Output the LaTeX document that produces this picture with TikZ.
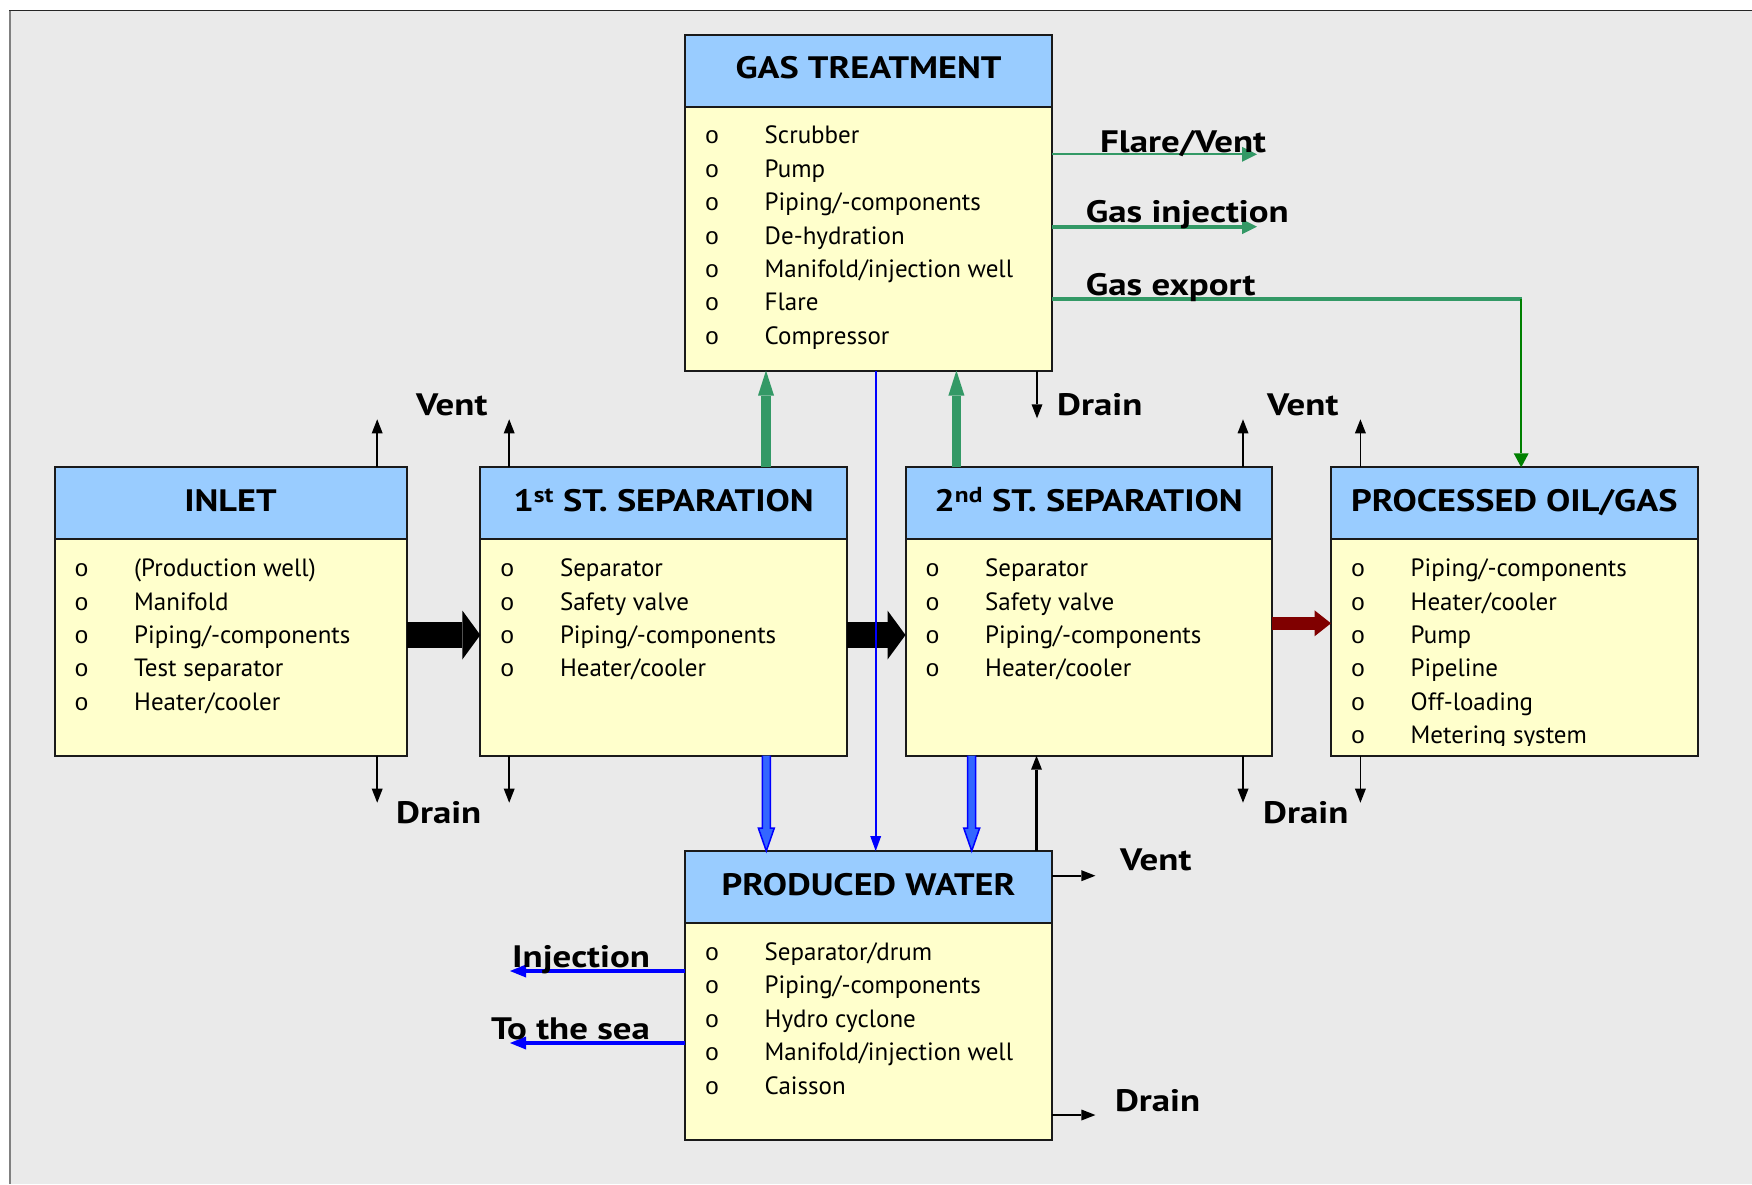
\documentclass[tikz,border=0pt]{standalone}
\usepackage{fontspec}
\setmainfont{PT Sans}
\newfontfamily\hdrface[FakeStretch=1.17]{PT Sans}
\newfontfamily\lblface[FakeStretch=1.19]{PT Sans}
\newfontfamily\bulface{Liberation Mono}
\usetikzlibrary{arrows.meta,calc}

\definecolor{bg}{HTML}{EAEAEA}
\definecolor{hdrblue}{HTML}{99CCFF}
\definecolor{bodyyel}{HTML}{FFFFCC}
\definecolor{seagreen}{HTML}{339966}
\definecolor{pgreen}{HTML}{008000}
\definecolor{wblue}{HTML}{0000FF}
\definecolor{wfill}{HTML}{3366FF}
\definecolor{oilred}{HTML}{800000}
\definecolor{edge}{HTML}{1A1A1A}

\newcommand\itemfont{\fontsize{25}{30}\selectfont}
\newcommand\bulfont{\bulface\fontsize{24}{28}\selectfont}
\newcommand\hdrfont{\hdrface\fontsize{31}{36}\selectfont\bfseries}
\newcommand\lblfont{\lblface\fontsize{31}{36}\selectfont\bfseries}

\tikzset{
  box/.style 2 args={draw=edge, line width=2pt, fill=bodyyel, inner sep=0pt,
    outer sep=0pt, anchor=north west, minimum width=#1pt, minimum height=#2pt},
  hdr/.style={draw=edge, line width=2pt, fill=hdrblue, inner sep=0pt,
    outer sep=0pt, anchor=north west, minimum height=72pt, minimum width=#1pt},
  hdrtxt/.style={font=\hdrfont, inner sep=0pt, anchor=base},
  itm/.style={font=\itemfont, inner sep=0pt, anchor=base west},
  bul/.style={font=\bulfont, inner sep=0pt, anchor=base},
  lbl/.style={font=\lblfont, inner sep=0pt, anchor=base west},
  fatblack/.style={line width=25.4pt, black,
    -{Triangle[length=18pt,width=49pt,line width=0pt]}},
  fatred/.style={line width=13.3pt, oilred,
    -{Triangle[length=16.5pt,width=26pt,line width=0pt]}},
  fatgreen/.style={line width=9.4pt, seagreen,
    -{Triangle[length=25pt,width=16pt,line width=0pt]}},
  thin/.style={line width=1.8pt, black,
    -{Triangle[length=14pt,width=11pt,line width=0pt]}},
  thinblue/.style={line width=2pt, wblue,
    -{Triangle[length=15pt,width=11pt,line width=0pt]}},
  outblue/.style={line width=4.7pt, wblue,
    -{Triangle[length=16pt,width=13pt,line width=0pt]}},
  outgreen/.style={seagreen,
    -{Triangle[length=15pt,width=15pt,line width=0pt]}},
  hollow/.style={draw=wblue, line width=1.5pt, fill=wfill, line join=miter},
}

% a box: outer frame, header band, header title, bullet list
\newcommand\procbox[7]{% name, x, y, width, height, title, items
  \node[box={#4}{#5}] (#1) at (#2,#3) {};
  \node[hdr=#4] (#1-h) at (#1.north west) {};
  \node[hdrtxt] (#1-t) at ($(#1.north)+(0,44)$) {#6};
  \foreach \t [count=\i from 0] in {#7} {
    \node[bul] (#1-o\i) at ($(#1.north west)+(27,109.4+33.4*\i)$) {o};
    \node[itm] (#1-i\i) at ($(#1.north west)+(79.5,109.4+33.4*\i)$) {\t};
  }
}

\begin{document}
\begin{tikzpicture}[x=1pt,y=-1pt]
\useasboundingbox (0,0) rectangle (1752,1184);
\fill[white] (0,0) rectangle (1752,1184);
\fill[bg] (10,10.5) rectangle (1752,1184);
\draw[black!85, line width=1pt] (9,10.5) -- (1752,10.5);
\draw[gray, line width=2pt] (10,10.5) -- (10,1184);

% ---------- process units ----------
\procbox{gt}{685}{34.5}{367}{336}{GAS TREATMENT}
  {Scrubber, Pump, Piping/-components, De-hydration, Manifold/injection well, Flare, Compressor}
\procbox{inlet}{54.5}{467.3}{352}{288.4}{INLET}
  {(Production well), Manifold, Piping/-components, Test separator, Heater/cooler}
\procbox{sep1}{480.3}{467.3}{366.4}{288.4}{1\textsuperscript{st} ST. SEPARATION}
  {Separator, Safety valve, Piping/-components, Heater/cooler}
\procbox{sep2}{905.5}{467.3}{366.2}{288.4}{2\textsuperscript{nd} ST. SEPARATION}
  {Separator, Safety valve, Piping/-components, Heater/cooler}
\procbox{pw}{685}{851}{367}{288.5}{PRODUCED WATER}
  {Separator/drum, Piping/-components, Hydro cyclone, Manifold/injection well, Caisson}
\node[box={366.7}{288.4}] (pog) at (1331,467.3) {};
\node[hdr=366.7] (pog-h) at (pog.north west) {};
\node[hdrtxt] (pog-t) at ($(pog.north)+(0,44)$) {PROCESSED OIL/GAS};
\begin{scope}
  \clip ($(pog.north west)+(2,2)$) rectangle ($(pog.south east)+(-2,-10.5)$);
  \foreach \t [count=\i from 0] in {Piping/-components, Heater/cooler, Pump, Pipeline, Off-loading, Metering system} {
    \node[bul] (pog-o\i) at ($(pog.north west)+(27,109.4+33.4*\i)$) {o};
    \node[itm] (pog-i\i) at ($(pog.north west)+(79.5,109.4+33.4*\i)$) {\t};
  }
\end{scope}

% ---------- main flow ----------
\draw[fatblack] ($(inlet.north east)+(0,167.7)$) -- ($(sep1.north west)+(0,167.7)$);
\draw[fatblack] ($(sep1.north east)+(0,167.7)$) -- ($(sep2.north west)+(0,167.7)$);
\draw[fatred] ($(sep2.north east)+(0,156)$) -- ($(pog.north west)+(0,156)$);

% gas to treatment
\draw[fatgreen] ($(sep1.north west)+(285.7,0)$) -- ($(gt.south west)+(81,0)$);
\draw[fatgreen] ($(sep2.north west)+(50.9,0)$) -- ($(gt.south west)+(271.4,0)$);

% water to produced water
\coordinate (w1s) at ($(sep1.south west)+(286,0)$);
\coordinate (w1e) at ($(pw.north west)+(81.3,0)$);
\coordinate (w2s) at ($(sep2.south west)+(66.2,0)$);
\coordinate (w2e) at ($(pw.north west)+(286.7,0)$);
\draw[hollow] ($(w1s)+(-4,0)$) -- ($(w1e)+(-4,-23)$) -- ($(w1e)+(-8,-23)$) -- (w1e)
  -- ($(w1e)+(8,-23)$) -- ($(w1e)+(4,-23)$) -- ($(w1s)+(4,0)$);
\draw[hollow] ($(w2s)+(-4,0)$) -- ($(w2e)+(-4,-23)$) -- ($(w2e)+(-8,-23)$) -- (w2e)
  -- ($(w2e)+(8,-23)$) -- ($(w2e)+(4,-23)$) -- ($(w2s)+(4,0)$);
\draw[thinblue] ($(gt.south west)+(190.7,0)$) -- ($(pw.north west)+(190.7,0)$);
\draw[thin, line width=2.5pt] ($(pw.north west)+(351.5,0)$) -- ($(sep2.south west)+(131,0)$);

% ---------- vents and drains ----------
\coordinate (gtd) at ($(gt.south west)+(352,47.8)$);
\draw[thin] ($(gt.south west)+(352,0)$) -- (gtd);
\foreach \b/\dx in {inlet/322.7, sep1/28.9, sep2/337.5, pog/29.4} {
  \coordinate (\b-vent) at ($(\b.north west)+(\dx,-48)$);
  \coordinate (\b-drain) at ($(\b.south west)+(\dx,47)$);
  \draw[thin] ($(\b.north west)+(\dx,0)$) -- (\b-vent);
  \draw[thin] ($(\b.south west)+(\dx,0)$) -- (\b-drain);
}
\coordinate (pwv) at ($(pw.north east)+(43.4,24.7)$);
\coordinate (pwd) at ($(pw.north east)+(43.4,264)$);
\draw[thin] ($(pw.north east)+(0,24.7)$) -- (pwv);
\draw[thin] ($(pw.north east)+(0,264)$) -- (pwd);

% ---------- water outlets ----------
\coordinate (inj) at ($(pw.north west)+(-175,120)$);
\coordinate (sea) at ($(pw.north west)+(-175,192)$);
\draw[outblue] ($(pw.north west)+(0,120)$) -- (inj);
\draw[outblue] ($(pw.north west)+(0,192)$) -- (sea);

% ---------- gas outlets ----------
\coordinate (flare) at ($(gt.north east)+(205,119.8)$);
\coordinate (ginj) at ($(gt.north east)+(205,192.2)$);
\draw[outgreen, line width=2.2pt] ($(gt.north east)+(0,119.8)$) -- (flare);
\draw[outgreen, line width=4pt] ($(gt.north east)+(0,192.2)$) -- (ginj);
\coordinate (px) at ($(pog.north west)+(190.2,0)$);
\coordinate (gy) at ($(gt.north east)+(0,264.5)$);
\coordinate (gx) at (px |- gy);
\draw[seagreen, line width=3.2pt] (gy) -- ([xshift=1pt]gx);
\draw[pgreen, line width=2pt, -{Triangle[length=14pt,width=15pt,line width=0pt]}] (gx) -- (px);

% ---------- labels ----------
\node[lbl] (l-flare) at (1100,152.7) {Flare/Vent};
\node[lbl] (l-ginj) at (1085.7,222.7) {Gas injection};
\node[lbl] (l-gexp) at (1085.7,295) {Gas export};
\node[lbl] (l-vent1) at (416,415) {Vent};
\node[lbl] (l-vent2) at (1267,415) {Vent};
\node[lbl] (l-drain0) at (1057,415) {Drain};
\node[lbl] (l-drain1) at (396,823.3) {Drain};
\node[lbl] (l-drain2) at (1263,823.3) {Drain};
\node[lbl] (l-vent3) at (1120,870.7) {Vent};
\node[lbl] (l-drain3) at (1114.8,1111.7) {Drain};
\node[lbl] (l-inj) at (512,967.7) {Injection};
\node[lbl] (l-sea) at (490.8,1039) {To the sea};
\end{tikzpicture}
\end{document}
